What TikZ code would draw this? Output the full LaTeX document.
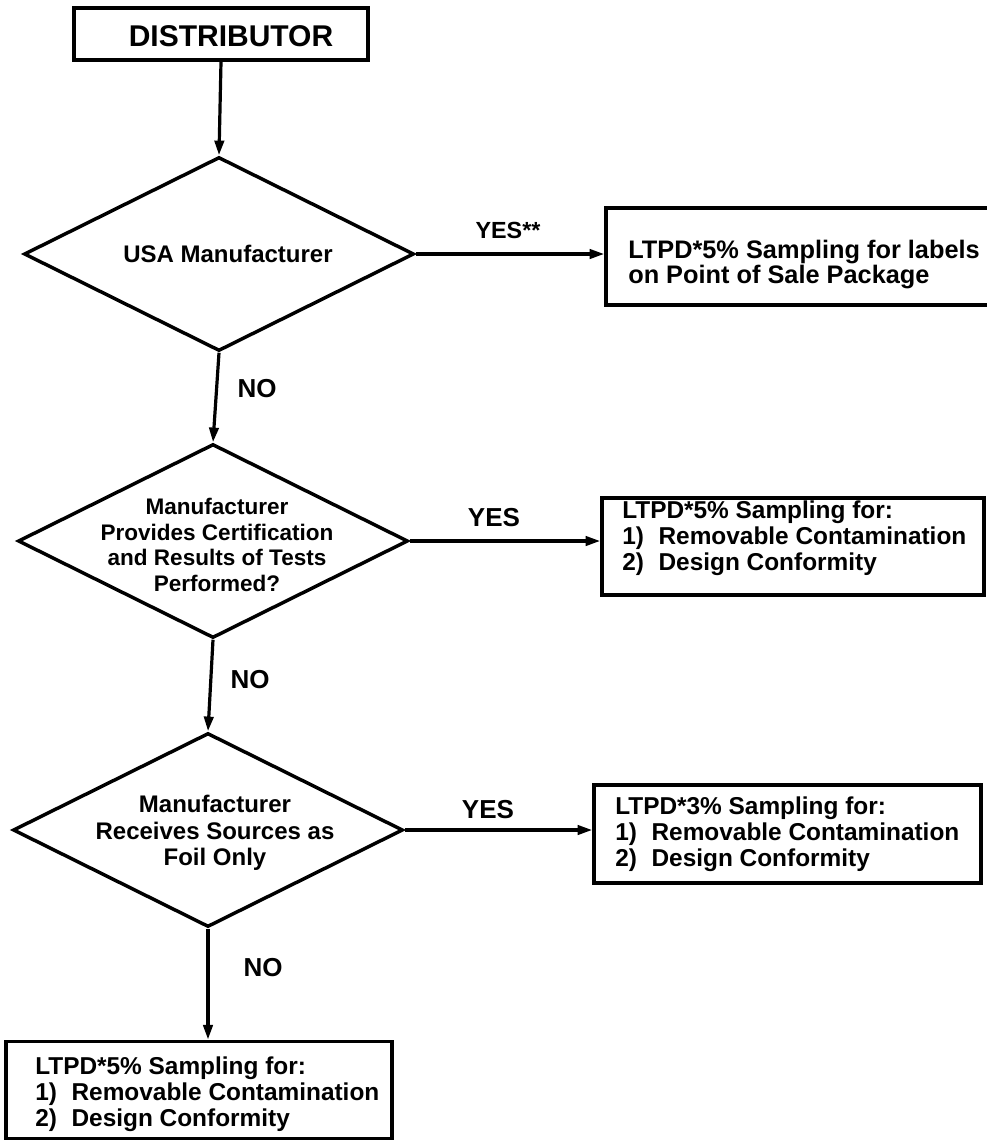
\documentclass[tikz,border=0pt]{standalone}
\usepackage{fontspec}
\setmainfont{Liberation Sans}
\usetikzlibrary{shapes.geometric,arrows.meta}
\begin{document}
\begin{tikzpicture}[x=0.75pt,y=-0.75pt,
  frame/.style={draw, rectangle, inner sep=0pt, line width=2.6pt},
  decision/.style={draw, diamond, inner sep=0pt, line width=2.6pt,
    minimum width=292.5pt, minimum height=145.5pt},
  txt/.style={inner sep=0pt, align=left, anchor=west,
    font=\bfseries\fontsize{18.3}{19.5}\selectfont},
  dtxt/.style={inner sep=0pt, align=center},
  lbl/.style={inner sep=0pt, font=\bfseries\fontsize{19.5}{20}\selectfont},
  flow/.style={line width=2.4pt, -{Triangle[length=11pt,width=7pt]}},
]
\useasboundingbox (0,0) rectangle (986,1143);

% start box
\node[frame, minimum width=220.5pt, minimum height=39pt] (dist) at (221,34) {};
\node[inner sep=0pt, font=\bfseries\fontsize{22.5}{24}\selectfont] (distt) at (231,36) {DISTRIBUTOR};

% first decision and its outcome
\node[decision] (d1) at (219,254) {};
\node[dtxt, font=\bfseries\fontsize{18}{20}\selectfont] (d1t) at (228,254) {USA Manufacturer};
\node[frame, minimum width=295.5pt, minimum height=72.75pt] (b1) at (803,256.5) {};
\node[txt, font=\bfseries\fontsize{19}{18.8}\selectfont] (b1t) at (628,264.5)
  {LTPD*5\% Sampling for labels\\on Point of Sale Package};

% second decision and its outcome
\node[decision] (d2) at (213,541) {};
\node[dtxt, font=\bfseries\fontsize{16.9}{19.3}\selectfont] (d2t) at (217,545)
  {Manufacturer\\Provides Certification\\and Results of Tests\\Performed?};
\node[frame, minimum width=286.5pt, minimum height=72.75pt] (b2) at (793,546.5) {};
\node[txt] (b2t) at (622,538)
  {LTPD*5\% Sampling for:\\1)\hspace{0.6em}Removable Contamination\\2)\hspace{0.6em}Design Conformity};

% third decision and its outcomes
\node[decision] (d3) at (208,830) {};
\node[dtxt, font=\bfseries\fontsize{18}{19.9}\selectfont] (d3t) at (215,833)
  {Manufacturer\\Receives Sources as\\Foil Only};
\node[frame, minimum width=290.25pt, minimum height=73.5pt] (b3) at (787.5,834) {};
\node[txt] (b3t) at (615,834)
  {LTPD*3\% Sampling for:\\1)\hspace{0.6em}Removable Contamination\\2)\hspace{0.6em}Design Conformity};
\node[frame, minimum width=289.5pt, minimum height=73pt] (b4) at (199,1090) {};
\node[txt] (b4t) at (35,1094)
  {LTPD*5\% Sampling for:\\1)\hspace{0.6em}Removable Contamination\\2)\hspace{0.6em}Design Conformity};

% branch labels
\node[inner sep=0pt, font=\bfseries\fontsize{17.5}{18}\selectfont] (yes1) at (508,230) {YES**};
\node[lbl] (no1) at (257,389) {NO};
\node[lbl] (yes2) at (494,518) {YES};
\node[lbl] (no2) at (250,680) {NO};
\node[lbl] (yes3) at (488,810) {YES};
\node[lbl] (no3) at (263,968) {NO};

% connectors
\draw[flow] (dist.south) -- (d1.north);
\draw[flow] (d1.east) -- (d1.east -| b1.west);
\draw[flow] (d1.south) -- (d2.north);
\draw[flow] (d2.east) -- (d2.east -| b2.west);
\draw[flow] (d2.south) -- (d3.north);
\draw[flow] (d3.east) -- (d3.east -| b3.west);
\draw[flow] (d3.south) -- (d3.south |- b4.north);
\end{tikzpicture}
\end{document}
